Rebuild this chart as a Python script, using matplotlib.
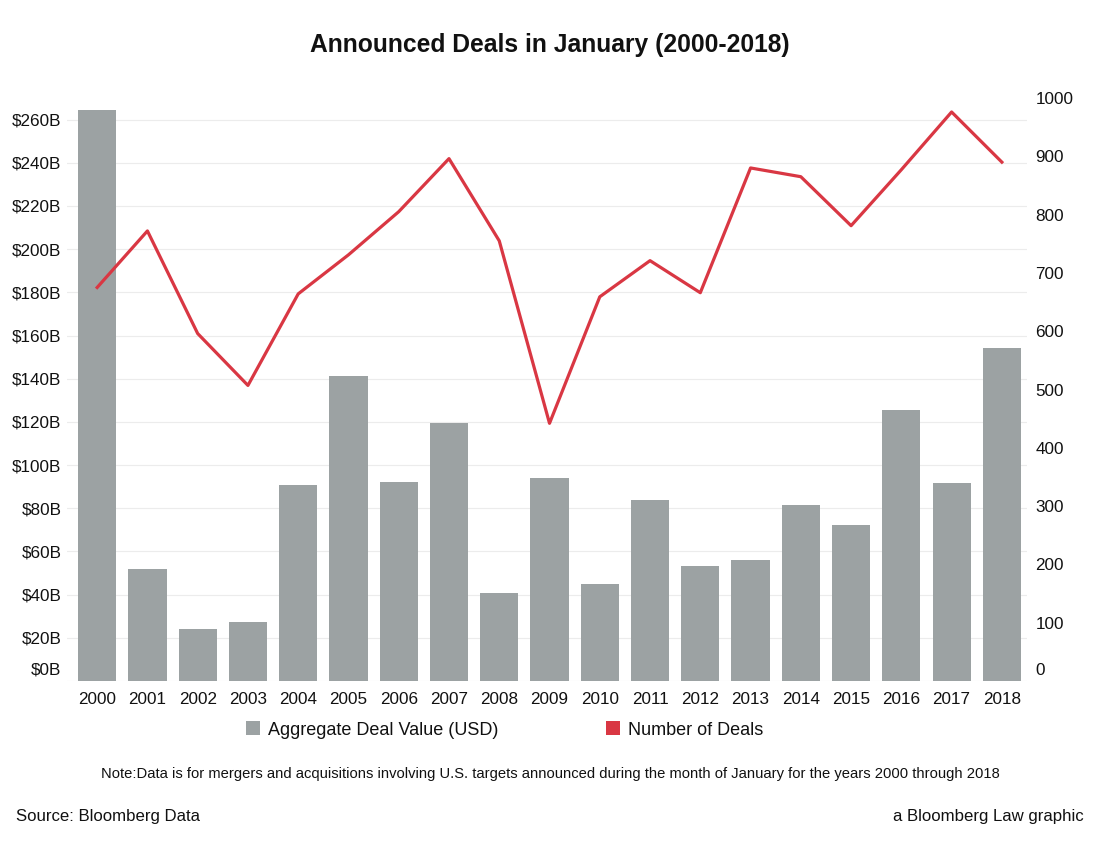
import matplotlib
matplotlib.use("Agg")
import matplotlib.pyplot as plt
from matplotlib.patches import Patch
import matplotlib.transforms as mtransforms

years = ["2000", "2001", "2002", "2003", "2004", "2005", "2006", "2007", "2008", "2009",
         "2010", "2011", "2012", "2013", "2014", "2015", "2016", "2017", "2018"]
deal_value_b = [264.6, 51.9, 24.1, 27.3, 90.8, 141.3, 92.2, 119.6, 40.8, 94.1,
                44.9, 83.9, 53.3, 56.1, 81.6, 72.3, 125.6, 91.8, 154.3]
deal_count = [675, 772, 596, 507, 664, 731, 805, 896, 755, 442,
              659, 721, 666, 880, 865, 781, 877, 976, 890]
left_ticks = list(range(0, 261, 20))
right_ticks = list(range(0, 1001, 100))

plt.rcParams['font.family'] = ['Liberation Sans', 'DejaVu Sans']

BAR = "#9ca2a3"
RED = "#d93743"

W, H = 1100, 850
fig = plt.figure(figsize=(11, 8.5), dpi=100)
ax = fig.add_axes([67 / W, 169 / H, (1027 - 67) / W, (752 - 169) / H])
x = list(range(len(years)))
ax.bar(x, deal_value_b, width=0.76, color=BAR, zorder=2)
ax.set_xlim(-0.6, 18.5)
ax.set_ylim(0, 270)
ax.set_yticks(left_ticks)
ax.set_yticklabels([f"${v}B" for v in left_ticks])
ax.set_xticks(x)
ax.set_xticklabels(years)
ax.grid(axis='y', color="#ececec", linewidth=0.8, zorder=0)
ax.tick_params(axis='both', length=0, labelsize=12.3, colors="#111111")
ax.tick_params(axis='y', pad=4)
ax.tick_params(axis='x', pad=8)
for s in ax.spines.values():
    s.set_visible(False)

ax2 = ax.twinx()
ax2.plot(x, deal_count, color=RED, linewidth=2.3, zorder=3)
ax2.set_ylim(0, 1000)
ax2.set_yticks(right_ticks)
ax2.tick_params(axis='y', length=0, labelsize=12.3, colors="#111111", pad=6)
for s in ax2.spines.values():
    s.set_visible(False)

# nudge zero labels up like the reference
offset = mtransforms.ScaledTranslation(0, 0.12, fig.dpi_scale_trans)
fig.canvas.draw()
for lab in [ax.get_yticklabels()[0], ax2.get_yticklabels()[0]]:
    lab.set_transform(lab.get_transform() + offset)

fig.text(550 / W, 1 - 45 / H, "Announced Deals in January (2000-2018)", ha='center', va='center',
         fontsize=17.7, fontweight='bold', color="#111111")

handles = [Patch(facecolor=BAR, edgecolor='none', label="Aggregate Deal Value (USD)"),
           Patch(facecolor=RED, edgecolor='none', label="Number of Deals")]
fig.legend(handles=handles, loc='center', bbox_to_anchor=(504.5 / W, 1 - 730 / H), ncol=2,
           frameon=False, fontsize=13, handlelength=0.78, handleheight=0.78,
           handletextpad=0.42, columnspacing=6.0, labelcolor="#111111",
           borderpad=0, borderaxespad=0)

fig.text(550 / W, 1 - 774 / H,
         "Note:Data is for mergers and acquisitions involving U.S. targets announced during the month of January for the years 2000 through 2018",
         ha='center', va='center', fontsize=10.67, color="#111111")
fig.text(16 / W, 1 - 817 / H, "Source: Bloomberg Data", ha='left', va='center', fontsize=12.1, color="#111111")
fig.text(1084 / W, 1 - 817 / H, "a Bloomberg Law graphic", ha='right', va='center', fontsize=12.1, color="#111111")

fig.savefig("out.png", dpi=100, facecolor='white')
